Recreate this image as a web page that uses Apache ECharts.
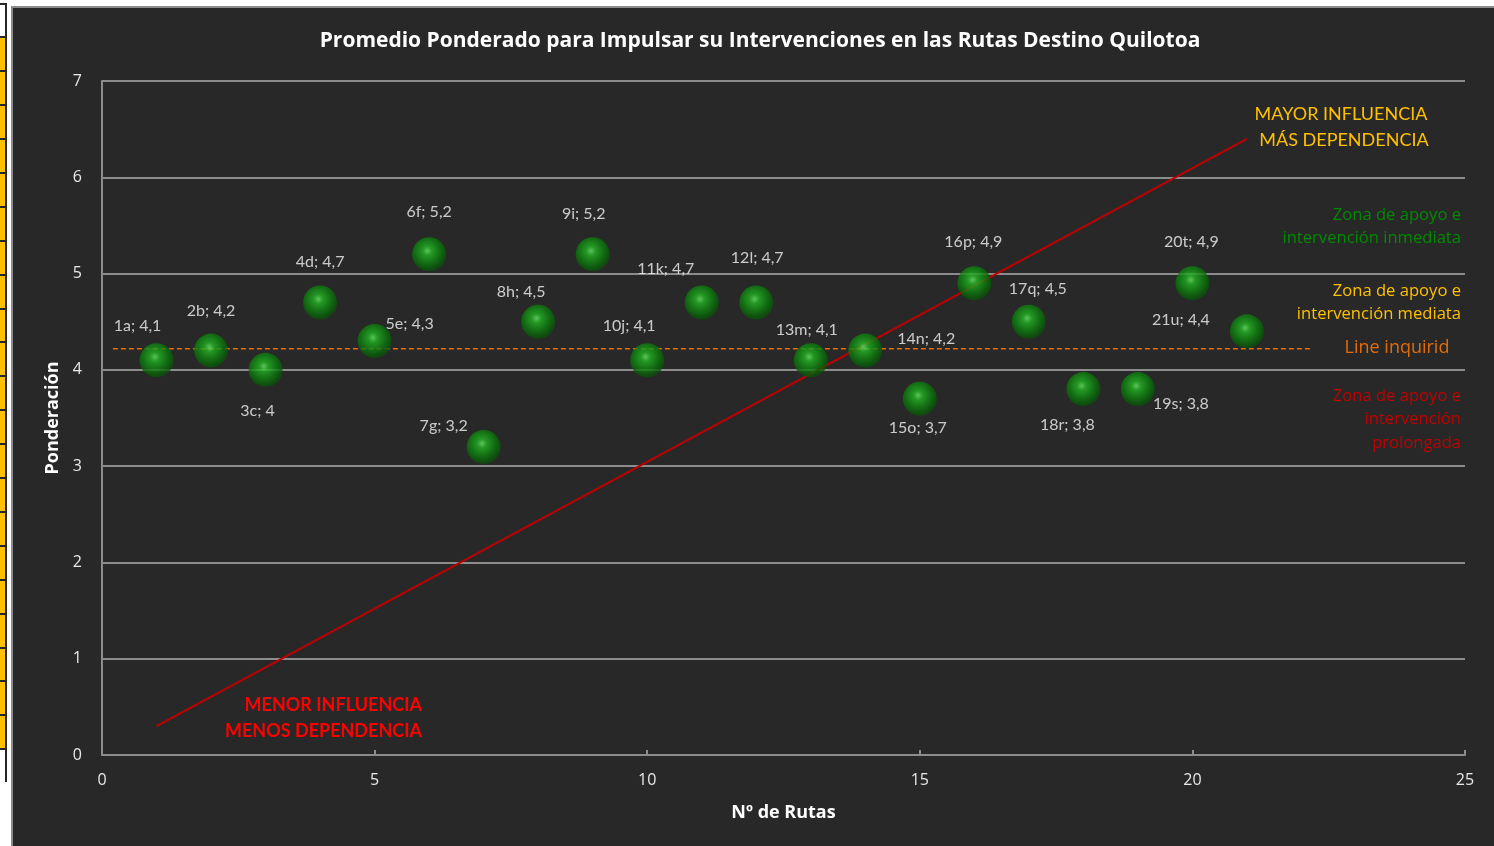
<!DOCTYPE html>
<html>
<head>
<meta charset="utf-8">
<style>
  html, body { margin: 0; padding: 0; background: #ffffff; }
  #chart { width: 1494px; height: 846px; }
</style>
<script src="https://cdn.jsdelivr.net/npm/echarts@6/dist/echarts.min.js"></script>
</head>
<body>
<div id="chart"></div>
<script>
// Route codes, route numbers and weighted averages
const routeCodes = ['1a','2b','3c','4d','5e','6f','7g','8h','9i','10j','11k','12l','13m','14n','15o','16p','17q','18r','19s','20t','21u'];
const routeNumbers = [1,2,3,4,5,6,7,8,9,10,11,12,13,14,15,16,17,18,19,20,21];
const weightedValues = [4.1,4.2,4.0,4.7,4.3,5.2,3.2,4.5,5.2,4.1,4.7,4.7,4.1,4.2,3.7,4.9,4.5,3.8,3.8,4.9,4.4];

// Influence / dependence diagonal and the required-level line
const trendLine = [[1, 0.3], [21, 6.4]];
const requiredLevel = 4.22;
const requiredSpan = [0.2, 22.2];

// Axis ranges
const xTicks = { min: 0, max: 25, interval: 5 };
const yTicks = { min: 0, max: 7, interval: 1 };

// Label offsets (px) for each bubble label, relative to the bubble centre
const labelOffsets = [
  [-19,-34],[0,-40],[-8,41],[0,-41],[35,-17],[0,-42],[-40,-21],[-17,-30],[-9,-40],[-18,-34],
  [-36,-34],[1,-45],[-4,-30],[61,-12],[-2,29],[-1,-41],[9,-33],[-16,36],[43,15],[-1,-41],[-66,-11]
];

const fmt = v => String(v).replace('.', ',');

const sphere = {
  type: 'radial', x: 0.45, y: 0.4, r: 0.62,
  colorStops: [
    { offset: 0, color: '#6ae86a' },
    { offset: 0.22, color: '#22b422' },
    { offset: 0.6, color: '#0e7e0e' },
    { offset: 0.85, color: '#095a09' },
    { offset: 1, color: '#0c4a0c' }
  ]
};

const bubbleData = routeCodes.map((code, i) => ({
  name: code,
  value: [routeNumbers[i], weightedValues[i]],
  label: { offset: labelOffsets[i] }
}));

// Spreadsheet cell strip at the left edge
const cellGraphics = [];
cellGraphics.push({ type: 'rect', shape: { x: 0, y: 0, width: 11, height: 846 }, style: { fill: '#ffffff' }, z: 100 });
cellGraphics.push({ type: 'rect', shape: { x: 0, y: 0, width: 1494, height: 6 }, style: { fill: '#ffffff' }, z: 100 });
cellGraphics.push({ type: 'rect', shape: { x: 0, y: 36, width: 5, height: 713 }, style: { fill: '#ffc000' }, z: 101 });
cellGraphics.push({ type: 'line', shape: { x1: 6, y1: 3, x2: 6, y2: 782 }, style: { stroke: '#262626', lineWidth: 2 }, z: 102 });
for (let y = 3.5; y <= 783; y += 33.9) {
  cellGraphics.push({ type: 'line', shape: { x1: 0, y1: Math.round(y), x2: 7, y2: Math.round(y) }, style: { stroke: '#262626', lineWidth: 2 }, z: 102 });
}
cellGraphics.push({ type: 'line', shape: { x1: 12, y1: 7, x2: 12, y2: 846 }, style: { stroke: '#8c8c8c', lineWidth: 2 }, z: 102 });
cellGraphics.push({ type: 'line', shape: { x1: 11, y1: 7, x2: 1494, y2: 7 }, style: { stroke: '#8c8c8c', lineWidth: 2 }, z: 102 });

const txt = (x, y, text, color, size, align, weight, family) => ({
  type: 'text', x, y, z: 110,
  style: { text, fill: color, font: (weight || 'normal') + ' ' + size + 'px ' + (family || '"Open Sans"'), textAlign: align, textVerticalAlign: 'middle' }
});

const annotations = [
  txt(1341, 114, 'MAYOR INFLUENCIA', '#ffc000', 18, 'center', 'normal', 'Lato'),
  txt(1344, 140, 'MÁS DEPENDENCIA', '#ffc000', 18, 'center', 'normal', 'Lato'),
  txt(1461, 215, 'Zona de apoyo e', '#008a00', 16.6, 'right'),
  txt(1461, 238, 'intervención inmediata', '#008a00', 16.6, 'right'),
  txt(1461, 291, 'Zona de apoyo e', '#ffc000', 16.6, 'right'),
  txt(1461, 314, 'intervención mediata', '#ffc000', 16.6, 'right'),
  txt(1397, 348, 'Line inquirid', '#e36c0a', 18, 'center'),
  txt(1461, 396, 'Zona de apoyo e', '#c00000', 16.6, 'right'),
  txt(1461, 419, 'intervención', '#c00000', 16.6, 'right'),
  txt(1461, 443, 'prolongada', '#c00000', 16.6, 'right'),
  txt(422, 705, 'MENOR INFLUENCIA', '#ff0000', 18, 'right', 'bold', 'Lato'),
  txt(422, 731, 'MENOS DEPENDENCIA', '#ff0000', 18, 'right', 'bold', 'Lato')
];

const chart = echarts.init(document.getElementById('chart'));
chart.setOption({
  backgroundColor: '#282828',
  animation: false,
  title: {
    text: 'Promedio Ponderado para Impulsar su Intervenciones en las Rutas Destino Quilotoa',
    left: 755, top: 26, textAlign: 'center',
    textStyle: { color: '#ffffff', fontFamily: 'Open Sans', fontWeight: 'bold', fontSize: 21 }
  },
  grid: { left: 102, right: 29, top: 81, bottom: 91 },
  xAxis: {
    type: 'value', min: xTicks.min, max: xTicks.max, interval: xTicks.interval,
    name: 'Nº de Rutas', nameLocation: 'middle', nameGap: 49,
    nameTextStyle: { color: '#ffffff', fontFamily: 'Open Sans', fontWeight: 'bold', fontSize: 18 },
    axisLine: { lineStyle: { color: '#8c8c8c', width: 2 } },
    axisTick: { show: true, inside: true, length: 5, lineStyle: { color: '#8c8c8c', width: 2 } },
    axisLabel: { color: '#e8e8e8', fontFamily: 'Open Sans', fontSize: 16, margin: 17 },
    splitLine: { show: false }
  },
  yAxis: {
    type: 'value', min: yTicks.min, max: yTicks.max, interval: yTicks.interval,
    name: 'Ponderación', nameLocation: 'middle', nameGap: 38, nameRotate: 90,
    nameTextStyle: { color: '#ffffff', fontFamily: 'Open Sans', fontWeight: 'bold', fontSize: 18 },
    axisLine: { show: true, lineStyle: { color: '#8c8c8c', width: 2 } },
    axisTick: { show: false },
    axisLabel: { color: '#e8e8e8', fontFamily: 'Open Sans', fontSize: 16, margin: 20 },
    splitLine: { lineStyle: { color: '#8c8c8c', width: 2 } }
  },
  series: [
    {
      type: 'line', data: trendLine, symbol: 'none', silent: true, z: 3,
      lineStyle: { color: '#c00000', width: 2 }
    },
    {
      type: 'line', data: requiredSpan.map(x => [x, requiredLevel]), symbol: 'none', silent: true, z: 4,
      lineStyle: { color: '#e36c0a', width: 1.5, type: [5, 3] }
    },
    {
      type: 'scatter', data: bubbleData, symbol: 'circle', symbolSize: 34, z: 5,
      itemStyle: { color: sphere },
      label: {
        show: true, position: 'inside', color: '#f2f2f2', fontFamily: 'Lato', fontSize: 16,
        formatter: p => p.name + '; ' + fmt(p.value[1])
      }
    }
  ],
  graphic: cellGraphics.concat(annotations)
});
</script>
</body>
</html>
